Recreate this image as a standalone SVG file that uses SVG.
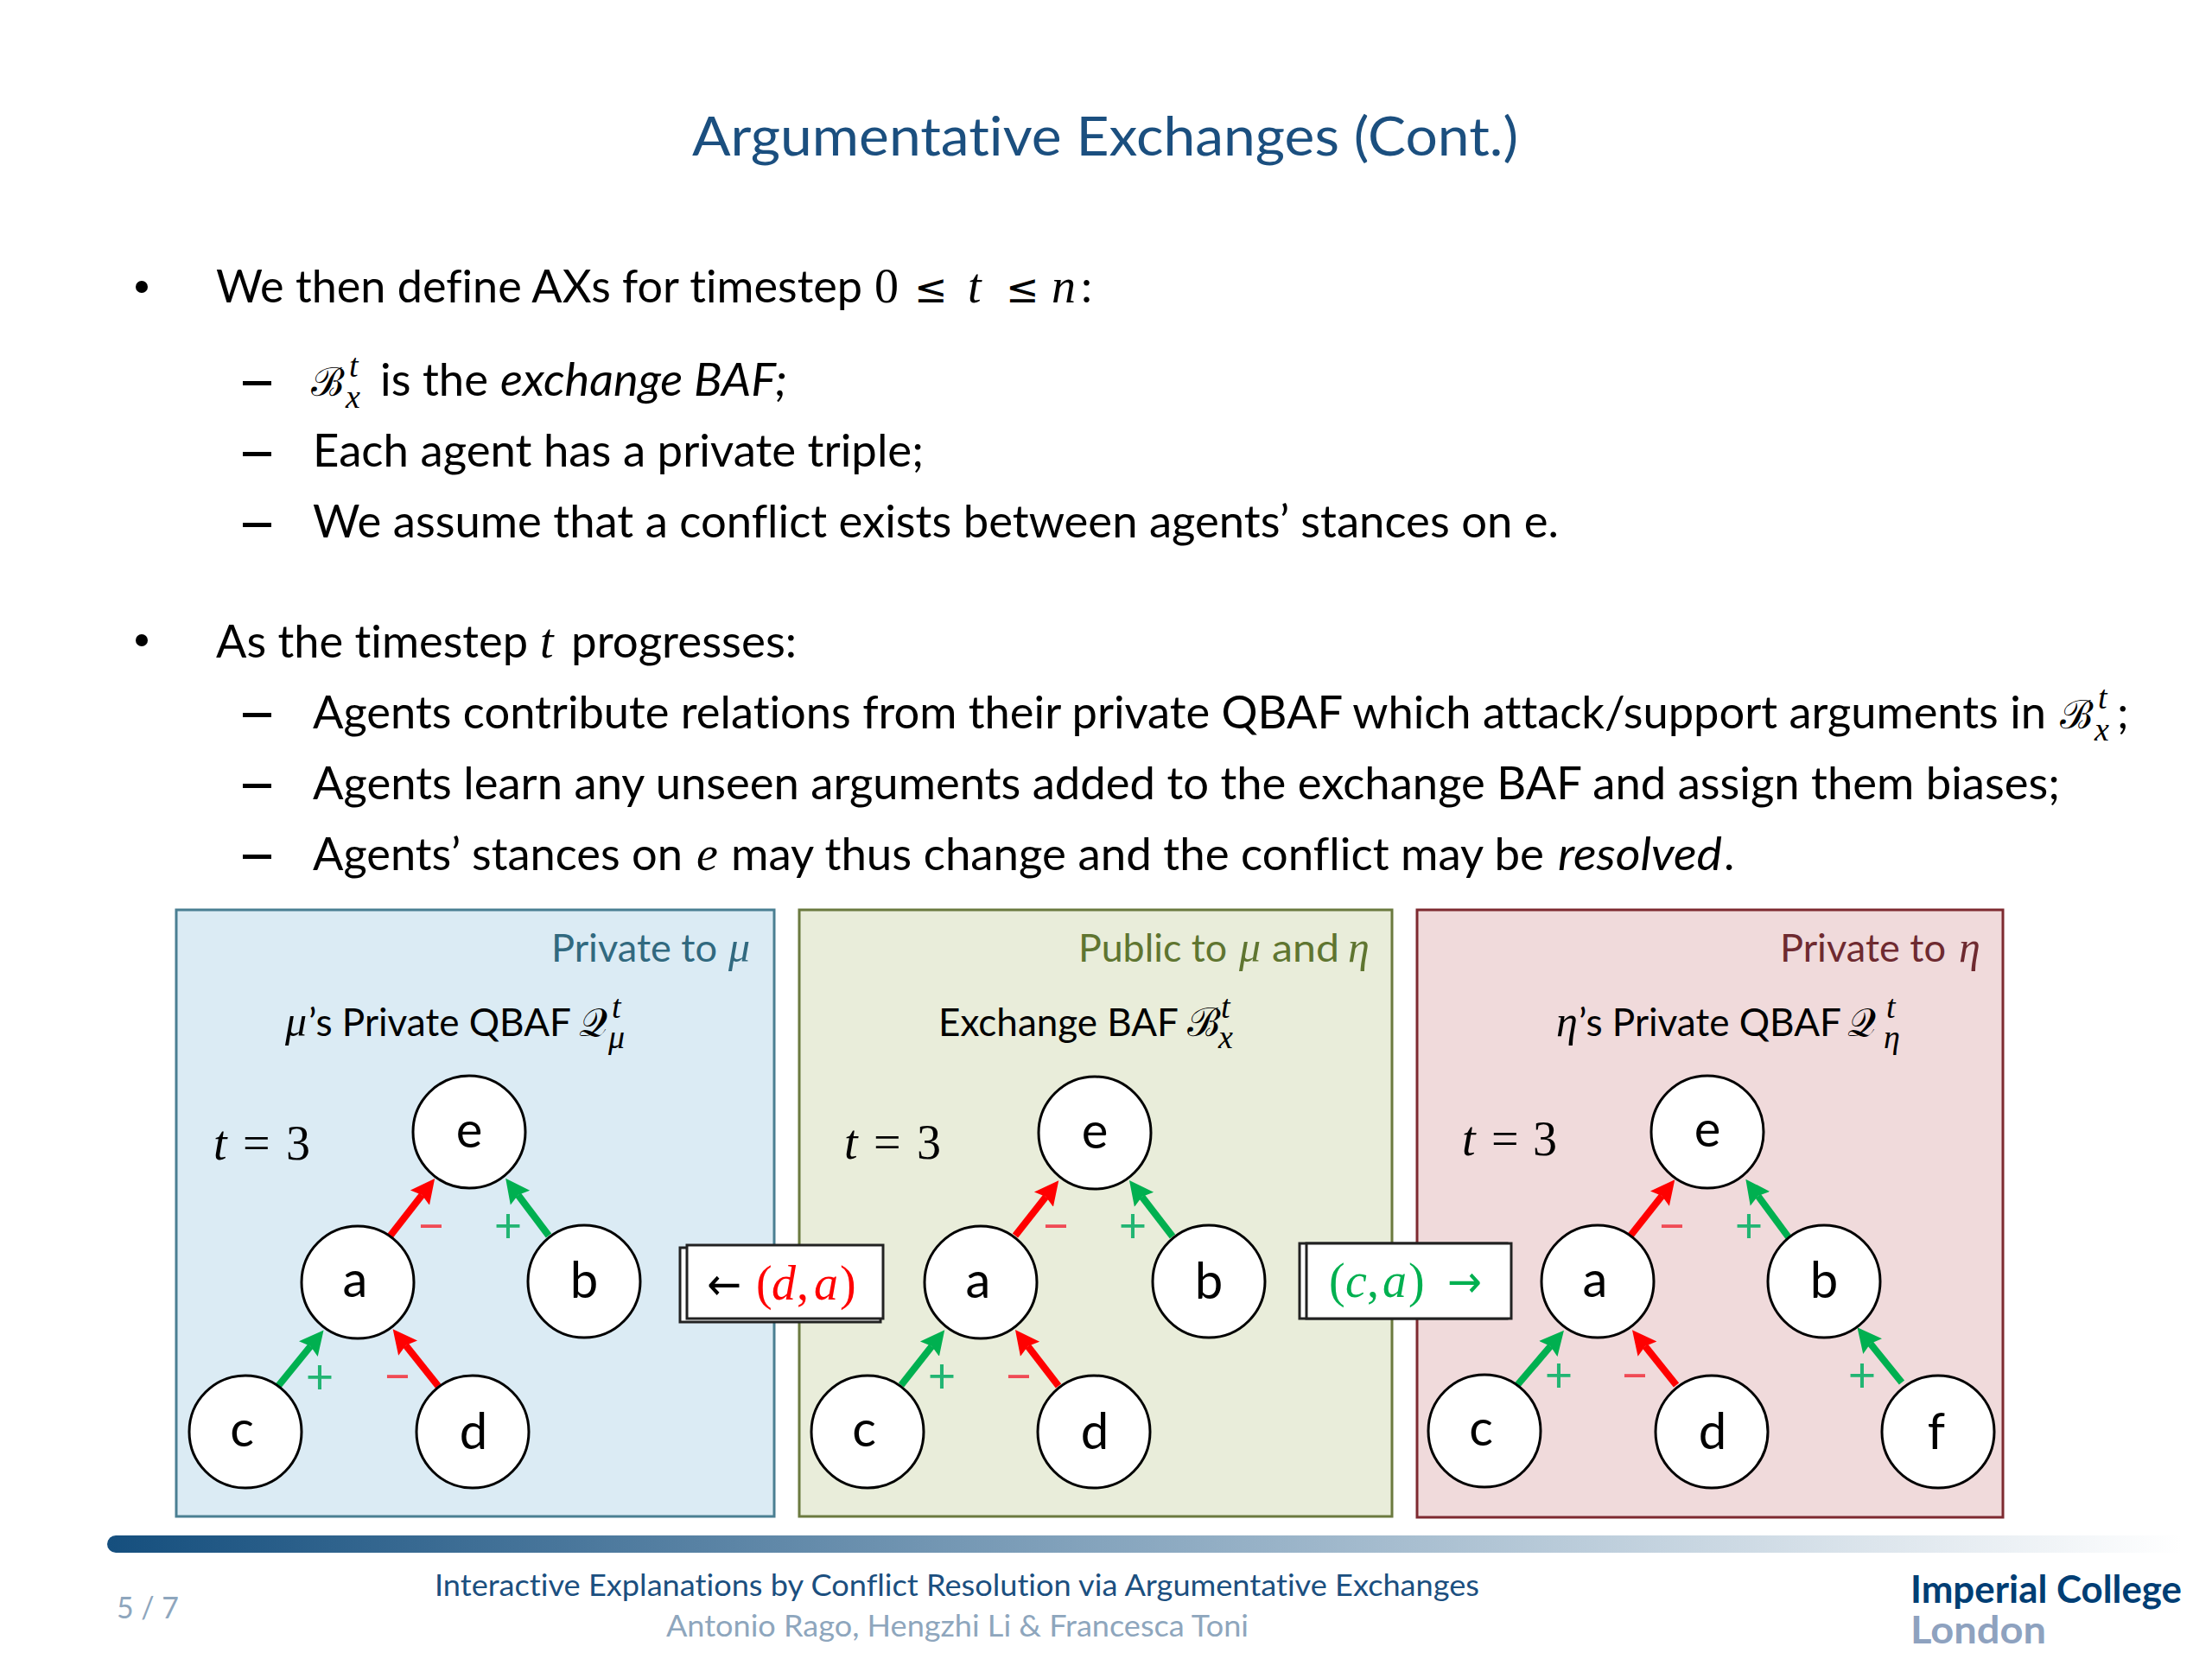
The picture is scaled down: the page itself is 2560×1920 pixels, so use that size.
<svg xmlns="http://www.w3.org/2000/svg" width="2560" height="1920" viewBox="0 0 2560 1920">
<style>
text{font-family:"Lato","Open Sans",sans-serif;fill:#000;font-variant-ligatures:none}
.b{font-size:52px}
.i{font-style:italic}
.m{font-family:"Liberation Serif","DejaVu Serif",serif;font-style:italic;font-size:56px}
.ms{font-family:"Liberation Serif","DejaVu Serif",serif;font-style:italic;font-size:38px}
.sc{font-family:"DejaVu Serif","Noto Sans",serif;font-style:normal;font-size:46px}
.p{font-size:44px}
.pm{font-family:"Liberation Serif","DejaVu Serif",serif;font-style:italic;font-size:50px}
.t3{font-family:"Liberation Serif","DejaVu Serif",serif;font-size:56px}
.le{font-family:"DejaVu Sans",sans-serif;font-size:46px}
.n{font-size:58px;text-anchor:middle}
.node circle{fill:#fff;stroke:#000;stroke-width:3}
.panel{stroke-width:3}
.red{stroke:#ff0000;stroke-width:8;marker-end:url(#hr)}
.grn{stroke:#00b050;stroke-width:8;marker-end:url(#hg)}
.sr{fill:#f04b55;font-size:56px;text-anchor:middle}
.sg{fill:#22b573;font-size:56px;text-anchor:middle}
.foot{font-size:34px}
</style>
<defs>
<marker id="hr" markerUnits="userSpaceOnUse" markerWidth="30" markerHeight="30" refX="4" refY="15" orient="auto"><path d="M0 1L28 15L0 29L4 15Z" fill="#ff0000"/></marker>
<marker id="hg" markerUnits="userSpaceOnUse" markerWidth="30" markerHeight="30" refX="4" refY="15" orient="auto"><path d="M0 1L28 15L0 29L4 15Z" fill="#00b050"/></marker>
<linearGradient id="bar" x1="0" x2="1" y1="0" y2="0"><stop offset="0" stop-color="#154f7e"/><stop offset=".5" stop-color="#8aa8c0"/><stop offset="1" stop-color="#ffffff"/></linearGradient>
</defs>
<rect width="2560" height="1920" fill="#fff"/>

<text x="801" y="180" font-size="62" style="fill:#1b4f7f" textLength="956" lengthAdjust="spacingAndGlyphs">Argumentative Exchanges (Cont.)</text>

<g id="body">
<circle cx="164" cy="332" r="7"/>
<text class="b" x="250" y="350" textLength="748" lengthAdjust="spacingAndGlyphs">We then define AXs for timestep</text>
<text class="t3" x="1012" y="350">0</text><text class="le" x="1058" y="350">≤</text><text class="m" x="1120" y="350">t</text><text class="le" x="1164" y="350">≤</text><text class="m" x="1217" y="350">n</text><text class="b" x="1251" y="350">:</text>

<rect x="281" y="441" width="33" height="5"/>
<text class="sc" x="360" y="458">ℬ</text><text class="ms" x="404" y="436">t</text><text class="ms" x="400" y="472">x</text>
<text class="b" x="440" y="458" textLength="125" lengthAdjust="spacingAndGlyphs">is the</text>
<text class="b i" x="579" y="458" textLength="332" lengthAdjust="spacingAndGlyphs">exchange BAF;</text>
<rect x="281" y="523" width="33" height="5"/>
<text class="b" x="362" y="540" textLength="707" lengthAdjust="spacingAndGlyphs">Each agent has a private triple;</text>
<rect x="281" y="605" width="33" height="5"/>
<text class="b" x="362" y="622" textLength="1442" lengthAdjust="spacingAndGlyphs">We assume that a conflict exists between agents’ stances on e.</text>

<circle cx="164" cy="741" r="7"/>
<text class="b" x="250" y="761" textLength="361" lengthAdjust="spacingAndGlyphs">As the timestep</text>
<text class="m" x="625" y="761">t</text>
<text class="b" x="661" y="761" textLength="261" lengthAdjust="spacingAndGlyphs">progresses:</text>

<rect x="281" y="825" width="33" height="5"/>
<text class="b" x="362" y="843" textLength="2006" lengthAdjust="spacingAndGlyphs">Agents contribute relations from their private QBAF which attack/support arguments in</text>
<text class="sc" x="2384" y="843">ℬ</text><text class="ms" x="2428" y="820">t</text><text class="ms" x="2424" y="857">x</text><text class="b" x="2450" y="843">;</text>
<rect x="281" y="907" width="33" height="5"/>
<text class="b" x="362" y="925" textLength="2022" lengthAdjust="spacingAndGlyphs">Agents learn any unseen arguments added to the exchange BAF and assign them biases;</text>
<rect x="281" y="989" width="33" height="5"/>
<text class="b" x="362" y="1007" textLength="428" lengthAdjust="spacingAndGlyphs">Agents’ stances on</text>
<text class="m" x="806" y="1007">e</text>
<text class="b" x="846" y="1007" textLength="941" lengthAdjust="spacingAndGlyphs">may thus change and the conflict may be</text>
<text class="b i" x="1803" y="1007" textLength="190" lengthAdjust="spacingAndGlyphs">resolved</text>
<text class="b" x="1995" y="1007">.</text>
</g>

<rect id="panel-mu" class="panel" x="204" y="1053" width="692" height="702" fill="#dbebf4" stroke="#4a7f92"/>
<rect id="panel-public" class="panel" x="925" y="1053" width="686" height="702" fill="#e9edda" stroke="#6b7a3f"/>
<rect id="panel-eta" class="panel" x="1640" y="1053" width="678" height="703" fill="#f0dadb" stroke="#7e2a30"/>

<g id="panel-labels">
<text class="p" x="638" y="1113" style="fill:#31697f" textLength="192" lengthAdjust="spacingAndGlyphs">Private to</text><text class="pm" x="843" y="1113" style="fill:#31697f">μ</text>
<text class="p" x="1248" y="1113" style="fill:#5f7530" textLength="172" lengthAdjust="spacingAndGlyphs">Public to</text><text class="pm" x="1434" y="1113" style="fill:#5f7530">μ</text><text class="p" x="1472" y="1113" style="fill:#5f7530" textLength="78" lengthAdjust="spacingAndGlyphs">and</text><text class="pm" x="1560" y="1113" style="fill:#5f7530">η</text>
<text class="p" x="2060" y="1113" style="fill:#6e2a30" textLength="192" lengthAdjust="spacingAndGlyphs">Private to</text><text class="pm" x="2267" y="1113" style="fill:#6e2a30">η</text>

<text class="pm" x="330" y="1199">μ</text><text class="p" x="357" y="1199" textLength="304" lengthAdjust="spacingAndGlyphs">’s Private QBAF</text>
<text class="sc" x="670" y="1199">𝒬</text><text class="ms" x="708" y="1178">t</text><text class="ms" x="704" y="1213">μ</text>
<text class="p" x="1086" y="1199" textLength="278" lengthAdjust="spacingAndGlyphs">Exchange BAF</text>
<text class="sc" x="1374" y="1199">ℬ</text><text class="ms" x="1413" y="1178">t</text><text class="ms" x="1410" y="1213">x</text>
<text class="pm" x="1801" y="1199">η</text><text class="p" x="1827" y="1199" textLength="304" lengthAdjust="spacingAndGlyphs">’s Private QBAF</text>
<text class="sc" x="2138" y="1199">𝒬</text><text class="ms" x="2183" y="1178">t</text><text class="ms" x="2180" y="1213">η</text>

<text class="m" x="247" y="1342">t</text><text class="t3" x="281" y="1342">=</text><text class="t3" x="331" y="1342">3</text>
<text class="m" x="977" y="1341">t</text><text class="t3" x="1011" y="1341">=</text><text class="t3" x="1061" y="1341">3</text>
<text class="m" x="1692" y="1337">t</text><text class="t3" x="1726" y="1337">=</text><text class="t3" x="1774" y="1337">3</text>
</g>

<g id="connectors">
<line class="red" x1="451" y1="1431" x2="488.4" y2="1383"/>
<line class="grn" x1="635" y1="1430" x2="599.6" y2="1383"/>
<line class="grn" x1="322" y1="1604" x2="359.4" y2="1558"/>
<line class="red" x1="507" y1="1604" x2="469.6" y2="1557"/>

<line class="red" x1="1175" y1="1430" x2="1210.4" y2="1385"/>
<line class="grn" x1="1357" y1="1431" x2="1321.6" y2="1385"/>
<line class="grn" x1="1043" y1="1603" x2="1078.4" y2="1558"/>
<line class="red" x1="1225" y1="1604" x2="1189.6" y2="1558"/>

<line class="red" x1="1887" y1="1430" x2="1923.4" y2="1384"/>
<line class="grn" x1="2070" y1="1432" x2="2034.6" y2="1384"/>
<line class="grn" x1="1756" y1="1603" x2="1794.4" y2="1558"/>
<line class="red" x1="1940" y1="1603" x2="1904" y2="1558"/>
<line class="grn" x1="2201" y1="1600" x2="2164.6" y2="1555"/>
</g>

<g id="signs">
<text class="sr" x="499" y="1438">−</text><text class="sg" x="588" y="1438">+</text><text class="sg" x="370" y="1613">+</text><text class="sr" x="460" y="1612">−</text>
<text class="sr" x="1222" y="1438">−</text><text class="sg" x="1311" y="1438">+</text><text class="sg" x="1090" y="1612">+</text><text class="sr" x="1179" y="1612">−</text>
<text class="sr" x="1935" y="1438">−</text><text class="sg" x="2024" y="1438">+</text><text class="sg" x="1804" y="1611">+</text><text class="sr" x="1892" y="1611">−</text><text class="sg" x="2155" y="1611">+</text>
</g>

<g id="mu-e" class="node"><circle cx="543" cy="1310" r="65"/><text class="n" x="543" y="1328">e</text></g>
<g id="mu-a" class="node"><circle cx="414" cy="1484" r="65"/><text class="n" x="411" y="1501">a</text></g>
<g id="mu-b" class="node"><circle cx="676" cy="1483" r="65"/><text class="n" x="676" y="1502">b</text></g>
<g id="mu-c" class="node"><circle cx="284" cy="1657" r="65"/><text class="n" x="280" y="1674">c</text></g>
<g id="mu-d" class="node"><circle cx="547" cy="1657" r="65"/><text class="n" x="548" y="1677">d</text></g>

<g id="pub-e" class="node"><circle cx="1267" cy="1311" r="65"/><text class="n" x="1267" y="1329">e</text></g>
<g id="pub-a" class="node"><circle cx="1135" cy="1484" r="65"/><text class="n" x="1132" y="1502">a</text></g>
<g id="pub-b" class="node"><circle cx="1399" cy="1483" r="65"/><text class="n" x="1399" y="1503">b</text></g>
<g id="pub-c" class="node"><circle cx="1004" cy="1657" r="65"/><text class="n" x="1000" y="1674">c</text></g>
<g id="pub-d" class="node"><circle cx="1266" cy="1657" r="65"/><text class="n" x="1267" y="1677">d</text></g>

<g id="eta-e" class="node"><circle cx="1976" cy="1310" r="65"/><text class="n" x="1976" y="1327">e</text></g>
<g id="eta-a" class="node"><circle cx="1849" cy="1483" r="65"/><text class="n" x="1846" y="1501">a</text></g>
<g id="eta-b" class="node"><circle cx="2111" cy="1483" r="65"/><text class="n" x="2111" y="1502">b</text></g>
<g id="eta-c" class="node"><circle cx="1718" cy="1656" r="65"/><text class="n" x="1714" y="1673">c</text></g>
<g id="eta-d" class="node"><circle cx="1981" cy="1657" r="65"/><text class="n" x="1982" y="1677">d</text></g>
<g id="eta-f" class="node"><circle cx="2243" cy="1657" r="65"/><text class="n" x="2241" y="1677">f</text></g>

<g id="msg-da">
<rect x="787" y="1444" width="232" height="86" fill="#fff" stroke="#222" stroke-width="3"/>
<rect x="795" y="1441" width="227" height="85" fill="#fff" stroke="#222" stroke-width="3"/>
<text x="818" y="1504" font-size="52" style="font-family:'DejaVu Sans',sans-serif" textLength="40" lengthAdjust="spacingAndGlyphs">←</text>
<text class="m" x="875" y="1504" style="fill:#ff0000;font-style:normal">(</text><text class="m" x="893" y="1504" style="fill:#ff0000">d</text><text class="m" x="922" y="1504" style="fill:#ff0000;font-style:normal">,</text><text class="m" x="942" y="1504" style="fill:#ff0000">a</text><text class="m" x="972" y="1504" style="fill:#ff0000;font-style:normal">)</text>
</g>
<g id="msg-ca">
<rect x="1504" y="1439" width="240" height="87" fill="#fff" stroke="#222" stroke-width="3"/>
<rect x="1512" y="1439" width="237" height="87" fill="#fff" stroke="#222" stroke-width="3"/>
<text class="m" x="1538" y="1501" style="fill:#00b050;font-style:normal">(</text><text class="m" x="1557" y="1501" style="fill:#00b050">c</text><text class="m" x="1582" y="1501" style="fill:#00b050;font-style:normal">,</text><text class="m" x="1600" y="1501" style="fill:#00b050">a</text><text class="m" x="1630" y="1501" style="fill:#00b050;font-style:normal">)</text>
<text x="1675" y="1501" font-size="52" style="font-family:'DejaVu Sans',sans-serif;fill:#00b050" textLength="40" lengthAdjust="spacingAndGlyphs">→</text>
</g>

<path id="bar-line" d="M134 1777H2525V1797H134A10 10 0 0 1 134 1777Z" fill="url(#bar)"/>

<g id="footer">
<text class="foot" x="135" y="1873" style="fill:#8ea6bd" textLength="72" lengthAdjust="spacingAndGlyphs">5 / 7</text>
<text class="foot" x="503" y="1847" style="fill:#1b4f7f" textLength="1209" lengthAdjust="spacingAndGlyphs">Interactive Explanations by Conflict Resolution via Argumentative Exchanges</text>
<text class="foot" x="771" y="1894" style="fill:#8ea6bd" textLength="674" lengthAdjust="spacingAndGlyphs">Antonio Rago, Hengzhi Li &amp; Francesca Toni</text>
<text x="2211" y="1855" font-size="44" font-weight="700" style="fill:#003e74" textLength="314" lengthAdjust="spacingAndGlyphs">Imperial College</text>
<text x="2211" y="1902" font-size="44" font-weight="700" style="fill:#8ea2bf" textLength="157" lengthAdjust="spacingAndGlyphs">London</text>
</g>
</svg>
